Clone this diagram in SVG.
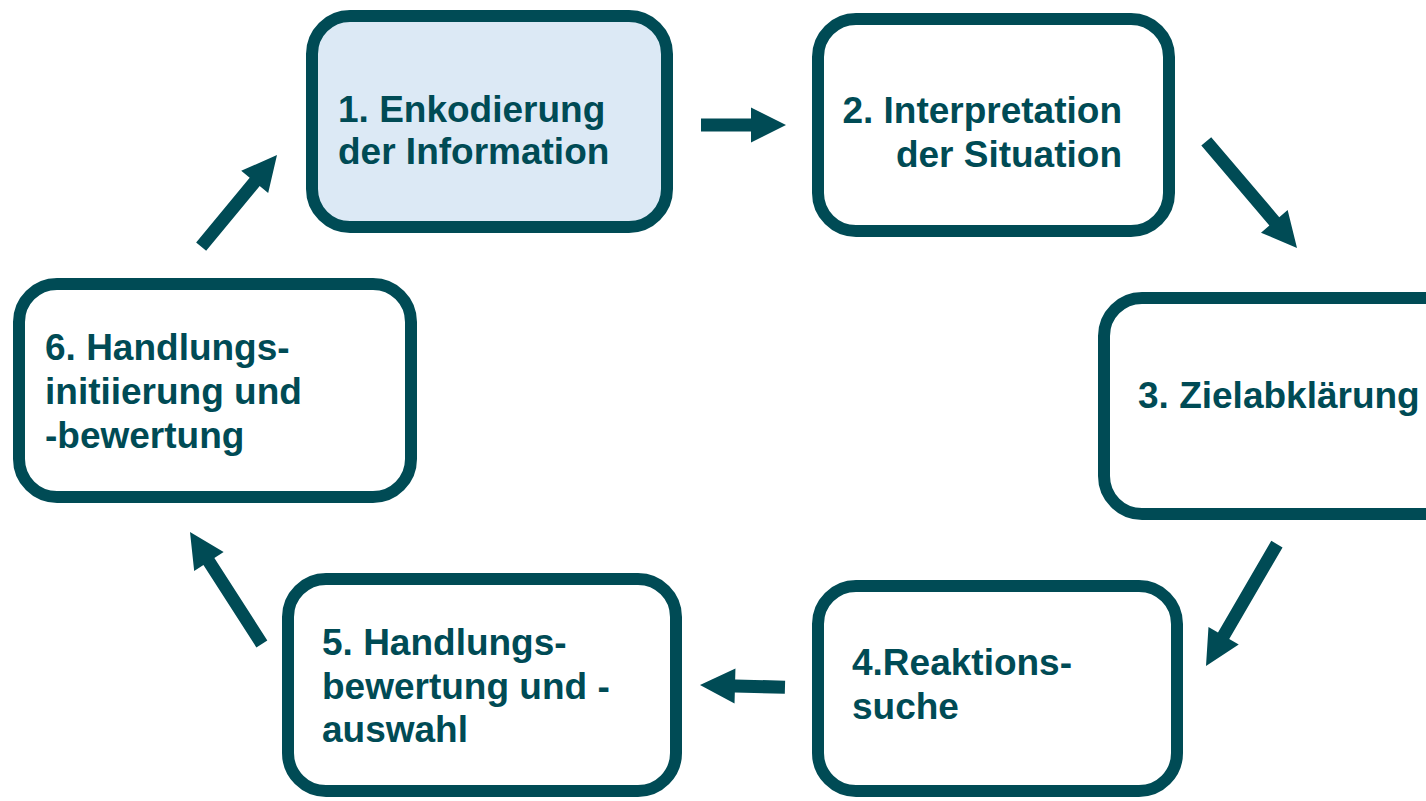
<svg xmlns="http://www.w3.org/2000/svg" width="1426" height="801" viewBox="0 0 1426 801">
<style>
.box{fill:#FFFFFF;stroke:#004B55;stroke-width:12}
.hl{fill:#DCE9F5}
.t{font-family:"Liberation Sans",Arial,sans-serif;font-weight:bold;font-size:37px;fill:#004B55}
.arr{fill:#004B55}
</style>
<defs>
<path id="a85" d="M0,0 L-35,-17.5 L-35,-6.5 L-85,-6.5 L-85,6.5 L-35,6.5 L-35,17.5 Z"/>
</defs>
<rect width="1426" height="801" fill="#FFFFFF"/>
<g id="node1">
<rect class="box hl" x="312" y="16" width="355" height="211" rx="38"/>
<text class="t" x="338" y="122">1. Enkodierung</text>
<text class="t" x="338" y="164">der Information</text>
</g>
<g id="node2">
<rect class="box" x="818" y="19" width="351" height="212" rx="38"/>
<text class="t" x="1122" y="123" text-anchor="end">2. Interpretation</text>
<text class="t" x="1122" y="167" text-anchor="end">der Situation</text>
</g>
<g id="node3">
<rect class="box" x="1104" y="298" width="360" height="216" rx="38"/>
<text class="t" x="1138" y="408">3. Zielabklärung</text>
</g>
<g id="node4">
<rect class="box" x="818" y="586" width="359" height="205" rx="38"/>
<text class="t" x="852" y="675">4.Reaktions-</text>
<text class="t" x="852" y="719">suche</text>
</g>
<g id="node5">
<rect class="box" x="288" y="579" width="388" height="212" rx="38"/>
<text class="t" x="322" y="655">5. Handlungs-</text>
<text class="t" x="322" y="699">bewertung und -</text>
<text class="t" x="322" y="742">auswahl</text>
</g>
<g id="node6">
<rect class="box" x="19" y="284" width="392" height="213" rx="38"/>
<text class="t" x="45" y="360">6. Handlungs-</text>
<text class="t" x="45" y="404">initiierung und</text>
<text class="t" x="45" y="448">-bewertung</text>
</g>
<g id="connectors" class="arr">
<path d="M0,0 L-35,-17.5 L-35,-6.5 L-85,-6.5 L-85,6.5 L-35,6.5 L-35,17.5 Z" transform="translate(786,125)"/>
<path d="M0,0 L-35,-17.5 L-35,-6.5 L-140,-6.5 L-140,6.5 L-35,6.5 L-35,17.5 Z" transform="translate(1297,248) rotate(49.6)"/>
<path d="M0,0 L-35,-17.5 L-35,-6.5 L-141,-6.5 L-141,6.5 L-35,6.5 L-35,17.5 Z" transform="translate(1206,666) rotate(120.2)"/>
<path d="M0,0 L-35,-17.5 L-35,-6.5 L-85,-6.5 L-85,6.5 L-35,6.5 L-35,17.5 Z" transform="translate(700,685) rotate(181.5)"/>
<path d="M0,0 L-35,-17.5 L-35,-6.5 L-133,-6.5 L-133,6.5 L-35,6.5 L-35,17.5 Z" transform="translate(190,532) rotate(-122.7)"/>
<path d="M0,0 L-35,-17.5 L-35,-6.5 L-119,-6.5 L-119,6.5 L-35,6.5 L-35,17.5 Z" transform="translate(277,155) rotate(-50.4)"/>
</g>
</svg>
